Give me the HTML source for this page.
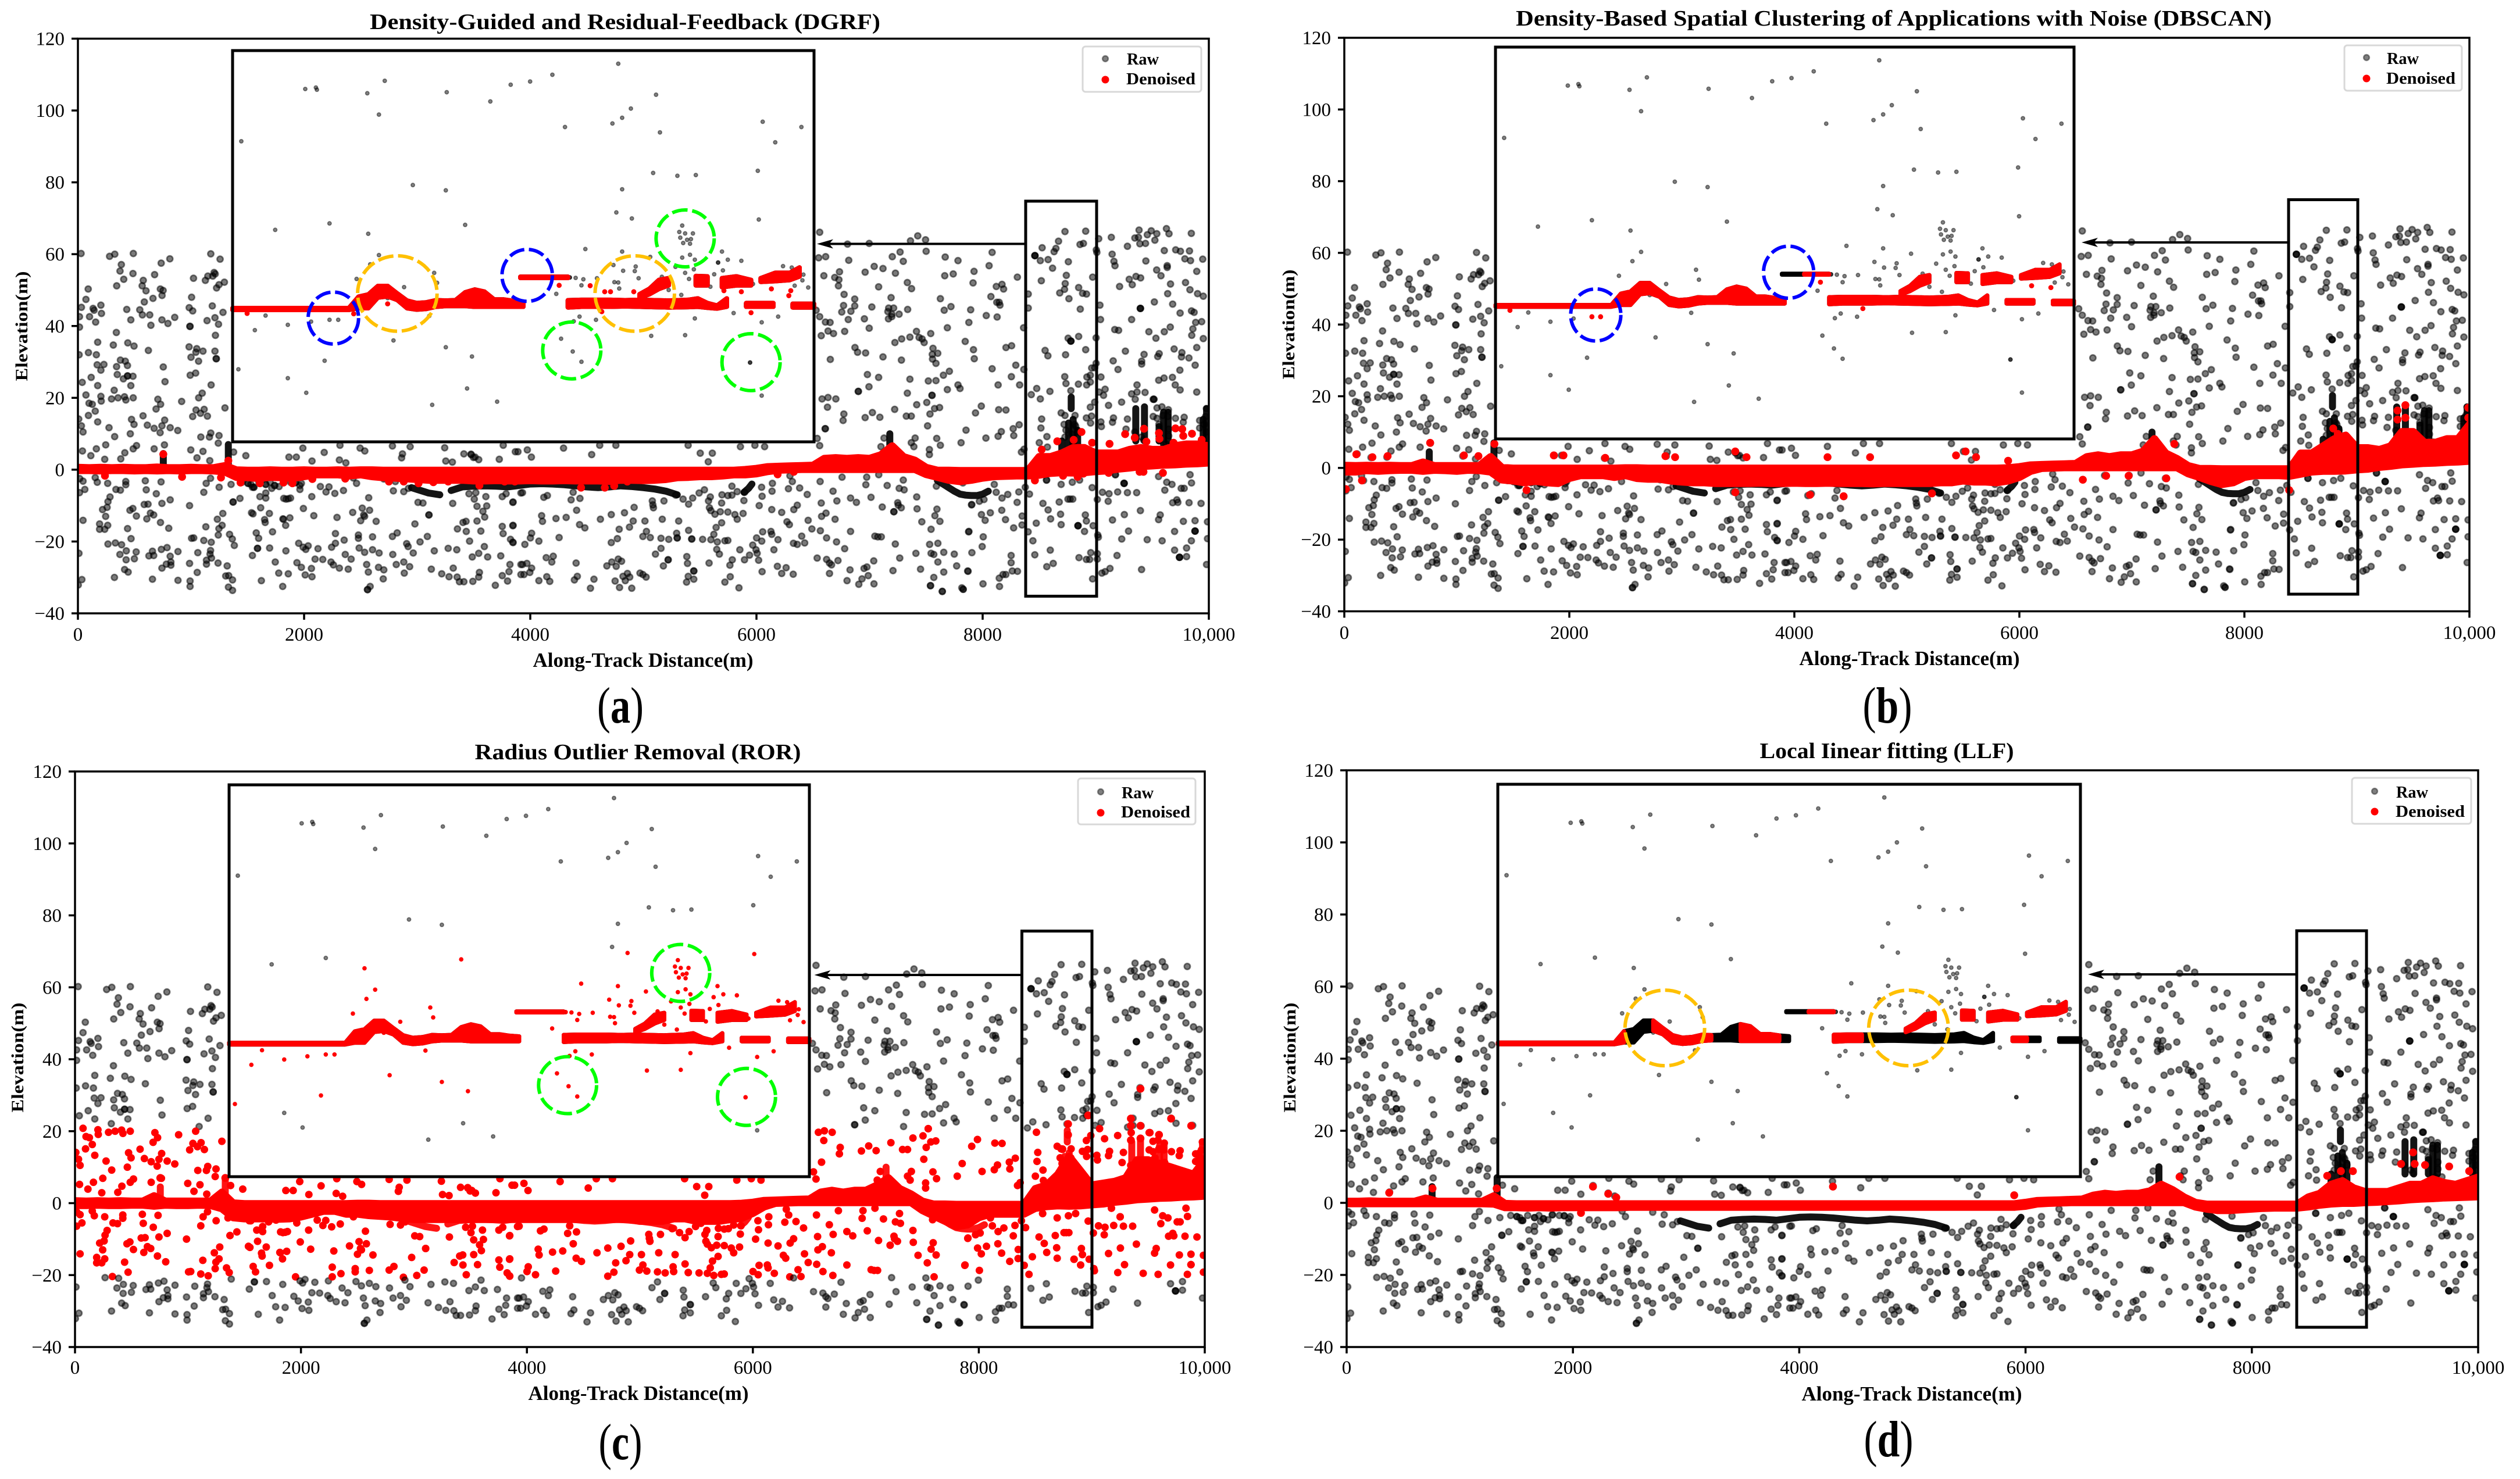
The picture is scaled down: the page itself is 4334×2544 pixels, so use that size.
<!DOCTYPE html>
<html lang="en">
<head>
<meta charset="utf-8">
<title>Denoising comparison</title>
<style>
html,body{margin:0;padding:0;background:#fff}
svg{display:block}
text{font-family:"Liberation Serif",serif;fill:#000}
.title{font-size:38px;font-weight:bold;text-anchor:middle}
.xlabel{font-size:35px;font-weight:bold;text-anchor:middle}
.ylabel{font-size:30px;font-weight:bold;text-anchor:middle}
.tick{font-size:33px}
.legend-text{font-size:28px;font-weight:bold}
.caption{font-size:88px;font-weight:bold;text-anchor:middle}
.caption tspan{font-weight:normal}
</style>
</head>
<body>
<svg id="figure" xmlns="http://www.w3.org/2000/svg" width="4334" height="2544" viewBox="0 0 4334 2544">
<rect x="0" y="0" width="4334" height="2544" fill="#fff"/>
<g id="panel-a"></g>
<g id="panel-b"></g>
<g id="panel-c"></g>
<g id="panel-d"></g>

<text class="title" x="1075" y="50" textLength="878" lengthAdjust="spacingAndGlyphs">Density-Guided and Residual-Feedback (DGRF)</text>
<text class="xlabel" x="1106" y="1147" textLength="379" lengthAdjust="spacingAndGlyphs">Along-Track Distance(m)</text>
<text class="ylabel" transform="translate(47,561) rotate(-90)" textLength="189" lengthAdjust="spacingAndGlyphs">Elevation(m)</text>
<text class="caption" x="1067" y="1243" textLength="80" lengthAdjust="spacingAndGlyphs"><tspan>(</tspan>a<tspan>)</tspan></text>

<text class="title" x="3257" y="44" textLength="1300" lengthAdjust="spacingAndGlyphs">Density-Based Spatial Clustering of Applications with Noise (DBSCAN)</text>
<text class="xlabel" x="3284" y="1144" textLength="379" lengthAdjust="spacingAndGlyphs">Along-Track Distance(m)</text>
<text class="ylabel" transform="translate(2226,558) rotate(-90)" textLength="189" lengthAdjust="spacingAndGlyphs">Elevation(m)</text>
<text class="caption" x="3246" y="1243" textLength="85" lengthAdjust="spacingAndGlyphs"><tspan>(</tspan>b<tspan>)</tspan></text>

<text class="title" x="1097" y="1306" textLength="561" lengthAdjust="spacingAndGlyphs">Radius Outlier Removal (ROR)</text>
<text class="xlabel" x="1098" y="2408" textLength="379" lengthAdjust="spacingAndGlyphs">Along-Track Distance(m)</text>
<text class="ylabel" transform="translate(40,1819) rotate(-90)" textLength="189" lengthAdjust="spacingAndGlyphs">Elevation(m)</text>
<text class="caption" x="1067" y="2510" textLength="75" lengthAdjust="spacingAndGlyphs"><tspan>(</tspan>c<tspan>)</tspan></text>

<text class="title" x="3245" y="1304" textLength="437" lengthAdjust="spacingAndGlyphs">Local Iinear fitting (LLF)</text>
<text class="xlabel" x="3288" y="2409" textLength="379" lengthAdjust="spacingAndGlyphs">Along-Track Distance(m)</text>
<text class="ylabel" transform="translate(2228,1819) rotate(-90)" textLength="189" lengthAdjust="spacingAndGlyphs">Elevation(m)</text>
<text class="caption" x="3248" y="2505" textLength="85" lengthAdjust="spacingAndGlyphs"><tspan>(</tspan>d<tspan>)</tspan></text>

<g>
<rect x="1862" y="80" width="204" height="78" rx="5" fill="#fff" stroke="#d8d8d8" stroke-width="3"/>
<circle cx="1901" cy="101" r="5" fill="#000" fill-opacity=".5" stroke="#000" stroke-opacity=".4" stroke-width="2.4"/>
<circle cx="1901" cy="137" r="6.5" fill="#f00"/>
<text class="legend-text" x="1938" y="111" textLength="55" lengthAdjust="spacingAndGlyphs">Raw</text>
<text class="legend-text" x="1937" y="145" textLength="119" lengthAdjust="spacingAndGlyphs">Denoised</text>
</g>
<g>
<rect x="4032" y="78" width="202" height="78" rx="5" fill="#fff" stroke="#d8d8d8" stroke-width="3"/>
<circle cx="4070" cy="99" r="5" fill="#000" fill-opacity=".5" stroke="#000" stroke-opacity=".4" stroke-width="2.4"/>
<circle cx="4070" cy="135" r="6.5" fill="#f00"/>
<text class="legend-text" x="4105" y="110" textLength="55" lengthAdjust="spacingAndGlyphs">Raw</text>
<text class="legend-text" x="4104" y="144" textLength="119" lengthAdjust="spacingAndGlyphs">Denoised</text>
</g>
<g>
<rect x="1854" y="1339" width="202" height="79" rx="5" fill="#fff" stroke="#d8d8d8" stroke-width="3"/>
<circle cx="1893" cy="1362" r="5" fill="#000" fill-opacity=".5" stroke="#000" stroke-opacity=".4" stroke-width="2.4"/>
<circle cx="1893" cy="1398" r="6.5" fill="#f00"/>
<text class="legend-text" x="1929" y="1373" textLength="55" lengthAdjust="spacingAndGlyphs">Raw</text>
<text class="legend-text" x="1928" y="1406" textLength="119" lengthAdjust="spacingAndGlyphs">Denoised</text>
</g>
<g>
<rect x="4045" y="1338" width="205" height="79" rx="5" fill="#fff" stroke="#d8d8d8" stroke-width="3"/>
<circle cx="4084" cy="1361" r="5" fill="#000" fill-opacity=".5" stroke="#000" stroke-opacity=".4" stroke-width="2.4"/>
<circle cx="4084" cy="1396" r="6.5" fill="#f00"/>
<text class="legend-text" x="4121" y="1372" textLength="55" lengthAdjust="spacingAndGlyphs">Raw</text>
<text class="legend-text" x="4120" y="1405" textLength="119" lengthAdjust="spacingAndGlyphs">Denoised</text>
</g>
</svg>

<script>
const xTicks=[0,2000,4000,6000,8000,10000];
const xTickLabels=["0","2000","4000","6000","8000","10,000"];
const yTicks=[120,100,80,60,40,20,0,-20,-40];
const yTickLabels=["120","100","80","60","40","20","0","\u221220","\u221240"];

const rawPoints=[
[28,60.2],[280,59.4],[326,60],[490,60.2],[1175,60.1],[1257,58.6],[813,58.7],[736,57.5],[384,57.1],[372,55.3],[487,54.6],[405,53],[678,54.3],[578,52.7],[568,51.2],[343,51.2],[91,50.3],[602,49.8],[729,50.3],[753,49.9],[744,48.5],[664,47.7],[587,46.7],[1022,53.3],[1127,52.7],[1149,53.9],[1193,53.9],[1204,54.9],[1214,54.5],[1295,52.2],[1248,51.5],[1226,50.6],[1005,48],[71,47.4],[31,45.2],[134,44.9],[143,44.4],[203,45.8],[208,43.5],[103,42.6],[14,42.6],[157,41.1],[14,39.7],[432,44.6],[547,44.5],[570,43.1],[635,43.1],[468,41.7],[743,41.7],[796,40.7],[856,42.4],[645,40.2],[984,45.1],[1015,44.2],[1188,45.6],[1283,43.8],[1212,42.3],[1142,41.5],[1243,40.5],[991,39.9],[991,39.9],[340,38.2],[1216,37.4],[175,35.5],[313,34.7],[441,35.3],[496,34.4],[623,33.2],[93,32.6],[163,32],[11,32],[983,34.2],[1051,33.7],[1043,32.7],[1106,33],[1212,33],[1000,31.3],[1223,30.9],[1223,30.9],[1067,30.2],[376,30.5],[419,30.2],[438,29],[170,29.2],[230,29.3],[203,27.7],[342,28.7],[755,28.6],[348,26.5],[439,26.1],[439,26.1],[487,26],[402,25.3],[117,25.7],[38,24.3],[175,23.4],[468,23.4],[770,24.5],[993,26.3],[1041,26.9],[1178,23.6],[321,22.1],[1099,21.3],[1068,20],[71,20.8],[203,20.4],[206,19.1],[297,19.7],[355,20],[412,20.3],[424,19.4],[489,20],[707,19.6],[731,18.2],[917,19],[98,18.5],[127,18.2],[691,16.9],[153,16.3],[1044,16.6],[1116,16.8],[1084,15.7],[1145,14.9],[1015,14.8],[1300,17.2],[93,15.1],[576,15],[7,14.1],[474,14],[767,13.8],[175,13.3],[496,12.6],[614,12.4],[31,12.2],[275,11.7],[674,11.5],[743,12.2],[816,11.7],[883,10.9],[45,10.5],[727,10.3],[463,10],[325,9.2],[1175,10.2],[1163,9.1],[1087,9.1],[1248,9.5],[1241,7.4],[765,6.9],[246,6.9],[518,6.7],[489,5.8],[163,5.8],[674,5.8],[40,5.2],[114,3.9],[415,4.7],[379,3],[237,2.9],[998,5.5],[1106,5.1],[1053,3.3],[1166,2.5],[1377,4.9],
[45,-3.2],[16,-2.5],[14,-6.4],[61,-5.5],[153,-2.2],[171,-3.5],[263,-3.8],[423,-3.3],[423,-4.2],[336,-5.5],[376,-5.7],[284,-7.6],[266,-8.9],[258,-10.5],[218,-11.1],[245,-13],[45,-14.1],[192,-15.1],[263,-15.5],[192,-16.6],[237,-16.6],[460,-11.3],[486,-10.8],[517,-12.9],[586,-9.7],[620,-9.6],[604,-5.6],[596,-3.1],[693,-6.7],[735,-3.4],[743,-9.4],[816,-8.4],[987,-10],[641,-12.1],[670,-12.6],[609,-13.7],[730,-14.7],[803,-16.3],[439,-16.4],[470,-19.2],[266,-20.7],[331,-20.4],[386,-20.9],[428,-22.6],[515,-22.9],[371,-23.6],[426,-25.1],[499,-24.8],[413,-27.8],[444,-28.5],[323,-30],[9,-23.3],[35,-30.6],[3,-32.1],[628,-24],[659,-22.7],[670,-23.9],[738,-22.2],[788,-21.7],[885,-22.8],[816,-24.1],[822,-25.7],[782,-26.3],[743,-27.4],[822,-26.6],[987,-26.1],[1055,-28.6],[659,-30.5],[885,-30.8],[992,-31],[992,-32.5],[1005,-19.1],[1024,-19],[1113,-19.7],[1179,-20.2],[1060,-23.1],[1137,-25.2],[1137,-26.3],[1173,-22.5],[1168,-23.5],[1181,-24.6],[1239,-26],[1320,-26.8],[1307,-29.6],[1333,-29.5],[1367,-30.7],[1331,-32.7],[1367,-33.6],[1383,-21.1],[1365,-19.3],[1341,-18],[1241,-18.2],[1247,-16.4],[1275,-15.5],[1233,-13.8],[1281,-12.2],[1131,-15.9],[1113,-6.3],[1134,-3.8],[1173,-2.4],[1249,-4.9],[1354,-4.1],[1372,-9],[1372,-9],[1433,-8],[1485,3.9],
[1866,3.5],[1931,3.5],[2070,2.4],[1989,6],[2178,4.8],[2317,6.8],[2312,2.7],[2369,1.9],[2495,6],[2537,5.2],[2781,6.6],[2938,6.4],[2862,3.3],[2870,4.4],[3243,6.1],[3253,2.4],[3311,2.1],[3413,4.4],[3476,4.3],[3497,3.4],[3544,2.8],[3891,5],
[1535,-12],[1548,-12.3],[1616,-10.6],[1693,-12.2],[1651,-13.9],[1656,-14.7],[1813,-13.7],[1818,-13.8],[1874,-13.4],[1837,-15.5],[1721,-17.3],[1577,-17.6],[1598,-19.1],[1588,-21.9],[1588,-21.9],[1695,-21.8],[1543,-23.9],[1839,-22.6],[1952,-20.5],[1992,-21.6],[2036,-21.2],[2015,-22.2],[2123,-22],[2243,-21.6],[2277,-20.5],[2277,-17.8],[2480,-18.2],[2480,-19.1],[2605,-18.7],[2781,-18.6],[2823,-17.6],[2907,-20.6],[2920,-21.4],[3025,-20.1],[3090,-18.6],[2354,-19.6],[2487,-21.8],[2535,-23],[2605,-22.3],[2663,-23.2],[2364,-23.6],[2416,-24.9],[2097,-24.9],[2165,-25],[2238,-25.7],[2259,-26.5],[2312,-27.4],[2390,-27.7],[2553,-26.4],[2658,-27.2],[2705,-27.9],[2568,-28.5],[2700,-30.4],[2584,-32.5],[2561,-33.4],[2561,-33.4],[1937,-25.9],[1976,-27.2],[2065,-27.5],[2010,-29.3],[2070,-29.8],[1776,-28.8],[1860,-29],[1745,-25.7],[1622,-30.9],[1811,-32.5],[2784,-23.6],[2815,-26.4],[2881,-25.7],[2933,-27],[2886,-28.8],[2965,-23.2],[3151,-22.6],[3125,-27.7],[3217,-29],[3282,-29.8],[3319,-27.4],[3353,-29.9],[3374,-31.2],[3413,-31.2],[3492,-31.1],[3550,-28.6],[3544,-29.9],[3274,-21.9],[3350,-22.3],[3487,-24.3],[3544,-23.3],[3594,-21.4],[3623,-24.3],[3739,-24],[3691,-32.2],[3752,-29.5],[3799,-31],[3812,-28.4],[3820,-26.4],[3917,-26.4],[3917,-29.2],[3846,-15.6],[3752,-15.8],[3760,-17.8],[3825,-19.4],[3846,-20.2],[3356,-16.5],[3405,-14.7],[3432,-14.4],[3529,-14.3],[3434,-17.2],[3563,-17.1],[3463,-19.9],[3597,-13.2],[3581,-11.6],[3529,-10.2],[3615,-10.1],[3505,-8.2],[3518,-6.4],[3458,-6.7],[3314,-9.4],[3607,-7.5],[3846,-9.1],[3752,-7.5],[3786,-6.7],[3917,-6.5],[2980,-15.1],[3104,-12.6],[3104,-12.6],[2637,-14.4],[2500,-14.2],[2527,-12.6],[2535,-13],[2514,-10.7],[2579,-11.3],[2430,-11.9],[2291,-13.3],[2086,-12.8],[1994,-10.8],[2068,-7.5],[2571,-7.8],[3007,-9.1],[3051,-9.3],[2881,-6.1],[2789,-5.9],[2923,-5.2],[2705,-2.6],[2807,-3.3],[2348,-5.8],[2272,-6.6],[2194,-6.2],[2220,-4.8],[2144,-4.7],[2464,-3.8],[2435,-2.3],[1820,-8],[1840,-8.2],[1860,-8.1],[1880,-7.9],[1661,-6.5],[1661,-7.9],[1609,-7.5],[1543,-4.9],[1530,-4.1],[1714,-5.2],[1779,-4.7],[1963,-5.5],[1963,-4.4],
[1504,-3.8],[1504,-3.8],[1556,-4.9],[1556,-4.9],[1661,-4.1],[1661,-4.1],[1740,-4.4],[1740,-4.4],[1818,-3.3],[1818,-3.3],[1923,-3.6],[1923,-3.6],[1976,-3.8],[1450,-3.5],[1600,-3.5],[1700,-3.5],[1880,-3.5],
[3477,4.2],[3512,3.5],[4294,6],[4614,6.8],[4757,6.8],[5396,6.8],[5503,4.6],[5610,4.6],[5574,2.2],[5858,6.4],[5986,6.8],[6072,6.4],[4543,4.2],[3868,5],[3974,5.5],[4010,3.5],[3761,6.8],[3726,2.9],
[3931,-6.4],[3848,-9],[4120,-7.7],[4151,-7.2],[4361,-8.4],[4439,-8],[4379,-6.3],[4410,-11.3],[4100,-12.8],[4108,-14.4],[4227,-13.6],[4317,-13.3],[4436,-15.3],[4483,-16.2],[4620,-13.8],[4716,-12.5],[4833,-12],[4918,-10.5],[4910,-14.3],[5014,-14.3],[5167,-13.8],[5312,-14.3],[4786,-16.6],[4877,-16],[5027,-17.2],[4996,-18.6],[5061,-18.9],[5156,-19.1],[5224,-19.4],[5294,-17.7],[5299,-19],[5299,-19],[5400,-16.9],[5428,-19.3],[5428,-19.3],[5524,-19.4],[5597,-19.5],[5623,-18],[5654,-20.1],[5721,-19.8],[5747,-19.7],[5643,-16.1],[5692,-14.8],[5830,-13.8],[5809,-12.5],[5747,-11.8],[5680,-11.7],[5633,-12.4],[5597,-11.4],[5584,-10.6],[5882,-12.2],[5400,-9.6],[5692,-9.3],[5889,-8.6],[5576,-8.7],[5436,-7.9],[5351,-8.2],[5182,-8.7],[5079,-8.7],[5084,-9.8],[5089,-10.6],[5286,-7.1],[5493,-6.5],[5540,-5.6],[5592,-7.6],[5695,-7],[5747,-7.2],[5783,-7.1],[5830,-6.1],[5783,-4.6],[5895,-6.3],[6050,-7.4],[6024,-10],[6138,-6],[6141,-3.8],[6045,-4.9],[6135,-11.1],[6223,-11.9],[6330,-11.1],[6361,-9.9],[6283,-5.3],[6382,-5.1],[6449,-6.9],[6296,-1.7],[6317,-3.3],[6563,-3.3],[6757,-2.1],[6975,-2.1],[7081,-1.4],[6677,-6],[6832,-7.9],[6884,-9.1],[6711,-8.7],[6573,-9.3],[7013,-7.7],[6967,-4.2],[7156,-4.4],[7262,-5.2],[7306,-5.6],[7298,-2.9],[7112,-10.4],[7249,-9.2],[7254,-9.9],[7280,-10.6],[7215,-11.7],[7215,-11.7],[7417,-7.6],[7420,-10.9],[7596,-11],[7578,-12.8],[7622,-14.4],[7462,-14.5],[7544,-16.6],[7591,-4.6],[6615,-12.1],[6576,-13],[6695,-13.8],[6457,-14.1],[6490,-16.5],[6565,-17],[6832,-17.2],[6620,-19],[6708,-20.1],[6780,-22],[6270,-14.5],[6291,-15.3],[6400,-18.5],[6426,-20.4],[6327,-20.5],[6361,-20.8],[6190,-19.5],[6128,-17.2],[6135,-18],[6055,-17.3],[6001,-19],[6047,-19.9],[5967,-21],[5996,-22.3],[6006,-23.3],[5939,-23.8],[6154,-22.3],[6019,-25.2],[5894,-25.1],[5853,-22.3],[5649,-22.2],[5672,-23.5],[5786,-25.1],[5765,-26.6],[5581,-26],[5390,-26.1],[5384,-24.2],[5156,-21.9],[5107,-23.5],[5219,-25.1],[5219,-25.1],[5177,-26.8],[5446,-28.2],[5446,-28.2],[5768,-29.8],[5397,-29.7],[5446,-30.5],[5382,-31.3],[5721,-31.3],[5845,-32.9],[6050,-28.4],[6185,-26.9],[6262,-27.3],[6223,-28.9],[6325,-29.1],[6537,-24.6],[6620,-25],[6646,-26],[6664,-26.5],[6721,-25.3],[6646,-28.9],[6827,-27.9],[6801,-30.9],[6905,-31.9],[6933,-30.4],[6951,-27.5],[6977,-27.1],[7037,-25.4],[6988,-29.5],[7039,-31.8],[7207,-28.1],[7267,-24.6],[7451,-27.7],[7410,-23.3],[7544,-23.3],[7568,-23.6],[7656,-23],[7749,-23.5],[7604,-25.7],[7770,-26.8],[7656,-28.5],[7568,-30],[7868,-28.2],[7539,-32.3],[7539,-32.3],[7643,-33.9],[7643,-33.9],[7816,-32.9],[7047,-18.5],[7073,-18.7],[7104,-18.7],[7228,-20.7],[7531,-20.8],[7604,-20.5],[7876,-17.3],[7902,-9.8],[4716,-20.3],[4770,-19.2],[4255,-18.9],[4076,-19.9],[4012,-17.7],[4001,-19],[3952,-20.8],[3848,-20.3],[3848,-15.5],[4141,-24.5],[4203,-24.1],[4190,-25.7],[4405,-26],[3931,-26.4],[3970,-26.1],[4012,-27.4],[3944,-29.2],[3996,-28.6],[4721,-25.7],[4778,-24.9],[4807,-25.5],[4677,-26.8],[4760,-26.9],[4146,-29.8],[4172,-31.1],[4076,-30.9],[4416,-29.7],[4390,-30.7],[4563,-30.5],[4750,-31],[4532,-33],[4789,-32.8],[4897,-33],[4859,-28.9],[4820,-29.7],[4879,-29.9],[4840,-30.9],[4970,-28.8],[4996,-29.2],[5024,-29.9],
[6559,66.1],[6550,59],[6612,59.3],[6805,62.8],[6997,63],[7362,63.7],[7426,65.1],[7495,64],[7500,60.8],[6816,58.3],[7201,59.3],[7270,60.6],[7298,58],[7669,59.2],[7782,58.2],[8084,60.5],[8057,56.8],[7041,56.6],[7119,56],[6961,55],[7229,54.7],[6734,55.1],[6596,54],[6692,53.5],[6729,52.9],[6725,51.2],[7665,54],[7740,54.5],[7924,55.2],[8307,53.6],[7915,52],[7080,50.9],[7334,52.1],[7371,50.4],[8121,51],[8171,51.6],[8185,50.3],[8403,48.9],[6775,48.8],[6869,47.5],[7190,47.9],[7626,47.6],[8073,48.2],[6770,45.7],[6869,45.6],[7020,45.3],[7169,45],[7213,45],[7337,44.6],[7162,44],[6754,43.9],[6835,44.1],[6527,44.4],[6559,42.6],[7197,43.3],[7261,43.3],[7197,42.6],[7167,42],[6954,42],[6812,41.8],[6610,41.1],[6651,41],[7660,44.4],[7720,45.4],[7894,44.5],[8032,42.9],[8128,42.5],[7878,41],[8146,46.6],[8125,46.6],[8153,45.8],[6633,38.6],[6681,37.9],[6573,37.3],[6780,38.5],[6997,39.4],[7688,39.5],[8362,39.5],[7415,38.5],[7357,36.9],[7284,36.4],[7224,35.4],[7438,36.8],[7465,36.4],[7483,35.4],[7541,37.9],[7846,35.7],[7561,33.8],[7603,32.4],[7555,32.1],[7557,30.8],[7587,29.6],[7919,33.4],[7926,30.9],[6871,34],[6894,32.7],[6965,32.5],[7119,31.4],[7282,30.5],[6653,30.7],[8206,34],[8256,34.5],[8084,28.1],[8293,29.1],[8364,27.9],[7706,27.4],[7653,26.3],[6981,26.5],[7080,25.7],[7357,25.2],[7520,24.7],[7587,24.8],[6995,23.1],[8254,25.9],[8137,23.6],[8327,23.6],[7782,23.6],[7800,22.6],[7688,22.3],[6901,21.8],[6901,21.8],[7334,21.3],[7552,20.7],[7552,20.7],[6580,19.7],[6633,20.1],[6702,19.7],[6628,17.4],[7417,18.1],[7506,18.7],[7619,17.3],[7575,17],[7222,16.8],[7988,17.7],[8142,16.7],[8206,16.6],[7937,15.8],[7534,15.5],[7025,15.9],[6773,15.5],[6766,13.7],[6961,14.5],[7091,14.6],[7325,14.9],[7369,14.9],[7513,12.2],[6608,11.4],[6608,11.4],[8323,12.5],[8270,11.4],[8165,10.6],[7853,11],[8275,9.5],[8137,9.3],[8029,8.8],[7594,8.7],[7403,8.8],[7128,8.8],[6537,8.7],[6559,6.7],[7626,6.8],[7809,7.5],[7369,7.5],[7392,6.4],[7101,6.4],[7529,5.6],[7529,4.2],[8343,4.9],[8366,5.7],
[8526,61.8],[8671,63.6],[8728,66.3],[8911,66.4],[8861,62.7],[8891,63],[8648,61.6],[8632,60.7],[8462,59.6],[8462,59.6],[8462,59.6],[8510,58.2],[8579,58.5],[8758,57.9],[8618,56.1],[8740,54.1],[8519,52.6],[8730,51.8],[8724,50.2],[8682,49.2],[8849,50.7],[8884,49.1],[8918,48.9],[8763,47.6],[8973,53.6],[9005,61.2],[9010,60.5],[9026,64.3],[9138,64.7],[9280,62.2],[9145,60],[9161,58],[9170,56.8],[9443,58.1],[9346,64.5],[9383,66.7],[9378,64.7],[9390,62.9],[9440,63],[9456,65.4],[9491,66.5],[9540,65.7],[9523,63.9],[9625,67.1],[9648,65.7],[9845,65.8],[9606,61],[9707,61.2],[9749,60.8],[9829,60.9],[9788,58.7],[9838,58.2],[9946,58.6],[9893,55.2],[9632,56.3],[9632,56.8],[9539,55.6],[9577,54],[9296,53],[9356,53.8],[9397,53.4],[9323,51.5],[9211,51],[9661,51.7],[9794,52.1],[9833,50.1],[9636,49],[9900,49],[9951,48.3],[9518,46.7],[9680,46.1],[9395,44.9],[9395,44.9],[9395,44.9],[9746,43.6],[9847,44.2],[9870,43.8],[9317,41.8],[9037,45.8],[9042,41.8],[8403,45],[8863,44.7],[9884,41],[9937,41.2],[9659,39.7],[9606,38.4],[9470,38.4],[9532,36.6],[9168,39],[9202,38.8],[9859,39.2],[9849,37.4],[9951,36.5],[9003,36.7],[8756,36.6],[8849,37.1],[8780,35.8],[8780,35.8],[8780,35.8],[9893,34],[8911,33.4],[8552,33.2],[8577,31.7],[8733,32],[9262,33],[9427,32.1],[9561,32.3],[9548,31.5],[9693,33.6],[9762,32.6],[9758,31.4],[9824,31.1],[9154,30.3],[9197,27.9],[9406,30.2],[9406,29.4],[9744,27.7],[9879,29.1],[9003,29.6],[8964,28.3],[8991,28.4],[9046,25.8],[8952,26.3],[8922,25.8],[8952,24.4],[8920,23.6],[8726,25.9],[8737,24],[8847,23.8],[8780,22],[9557,24.9],[9604,25.5],[9678,25.7],[9703,23.6],[9746,22.2],[9893,21.6],[9365,23.6],[9365,21.6],[9436,21.5],[9317,21.1],[9349,19.6],[9514,19.6],[9514,19.6],[9229,18.8],[9113,17.9],[9083,22.4],[9030,21.6],[9069,20.7],[8478,22.6],[8430,20.9],[8510,19.7],[8595,21.8],[8991,18.8],[8952,17.4],[8522,14.1],[8515,11.6],[8568,9.2],[8501,7.5],[8572,6.3],
[8694,15.8],[8728,15.1],[8817,15.1],[8917,14.4],[8963,14.9],[8954,13],[8720,12.6],[8814,12.6],[8737,11],[8822,12.1],[8728,9.1],[8788,9.9],[8840,10.5],[9280,14.1],[9157,14.4],[9148,13.2],[9045,13.3],[9050,12],[9268,11.3],[9345,10.5],[9508,19.6],[9508,14.8],[9542,17.2],[9585,17.5],[9642,16.7],[9637,14.8],[9594,15.1],[9542,14.3],[9559,12.6],[9645,11.3],[9705,14.3],[9782,14.6],[9774,13.2],[9645,9.4],[9680,7.2],[9620,7.2],[9422,8.3],[9405,9.1],[9919,13.7],[9919,11.6],[9979,17],[9971,14.8],[9962,12.6],[9979,10.5],
[7825,-3.7],[8103,-4.1],[8120,-6.3],[8222,-6.9],[8171,-7.9],[8305,-9.1],[8320,-6.2],[8377,-4.9],[8414,-6.8],[7904,-9.7],[7971,-8.8],[8012,-8.3],[7989,-12.5],[8068,-12],[8169,-11.3],[8202,-13.9],[8022,-14.1],[8274,-16.2],[8349,-12.9],[8348,-15.4],[7878,-17.2],[8005,-18.7],[7996,-21.4],[7905,-23.1],[7871,-28.3],[8252,-23.9],[8252,-25.9],[8003,-31.8],[8147,-30.2],[8180,-29.2],[8205,-29.2],[8262,-28.2],[8308,-28.3],[8149,-32.5],[7828,-33.3],[7828,-33.3],[8533,-9.4],[8579,-11.2],[8677,-9],[8754,-8.2],[8797,-8.2],[8774,-8.2],[8689,-12.4],[8601,-13.7],[8474,-14.9],[8694,-15.3],[8843,-15.6],[8843,-15.6],[8843,-15.6],[8908,-12.6],[8917,-14.3],[8901,-17.2],[8977,-15.6],[8402,-17.3],[8444,-19.8],[8461,-23.7],[8598,-22.4],[8624,-26.1],[8567,-27],[8852,-24.5],[8917,-25],[8946,-25],[8956,-23.1],[9014,-23.4],[9014,-24.9],[8972,-30.4],[9054,-28.8],[9083,-28.4],[9126,-27.5],[9018,-18.2],[9023,-18.8],[9014,-8.3],[8968,-5],[8857,-2.9],[8793,-3.5],[8694,-4.1],[8565,-2.9],[8565,-2.9],[9059,-6.3],[9117,-6.7],[9110,-8.8],[9194,-6.2],[9280,-6.4],[9362,-6.4],[9251,-3.8],[9251,-3.8],[9251,-3.8],[9174,-1.4],[9174,-1.4],[9148,-14],[9253,-12.5],[9395,-11.4],[9290,-17.1],[9230,-19.3],[9455,-19.5],[9587,-19.8],[9188,-23.9],[9405,-27.8],[9570,-12.6],[9556,-13.9],[9697,-17.2],[9775,-14.4],[9878,-14.2],[9878,-17.1],[9878,-17.1],[9878,-17.1],[9846,-19.8],[9803,-21.8],[9697,-22.4],[9741,-24.4],[9741,-24.4],[9741,-24.4],[9803,-24.2],[9980,-26.4],[9988,-14.5],[9988,-19.2],[9556,-1.9],[9628,-3.5],[9674,-4.1],[9611,-5.7],[9756,-5.2],[9782,-5.2],[9847,-3.7],[9834,-1.4],[9717,-8.4],[9680,-9.2],[9726,-9.1],[9825,-9.2],[9931,-9.4]
];

/* dense ground returns in the raw series: along-track position and elevation; null breaks the track */
const denseTrackX=[2950,3000,3100,3200,null,3300,3400,3500,3600,3700,3800,3900,4000,4100,4200,4300,4400,4500,4600,4700,4800,4900,5000,5100,5200,5300,null,5890,5930,5960,null,7600,7650,7700,7750,7800,7850,7900,7950,8000,8050];
const denseTrackY=[-5,-5.5,-6.5,-7,null,-5.8,-4.8,-4.6,-4.5,-4.6,-4.8,-4.4,-4,-3.9,-4,-4.2,-4.5,-4.8,-5,-4.8,-4.5,-4.7,-5,-5.4,-6,-7,null,-6.3,-5.2,-4,null,-3,-4,-5,-6,-6.8,-7.1,-7.2,-7.2,-6.8,-6];
const denseColX=[755,1330,7179,8783,8700,8760,8800,8840,9354,9431,9560,9600,9640,9950,9980];
const denseColLow=[1,1,2,17,5,6,6,6,8,8,8,7,8,8,8];
const denseColHigh=[4.5,7,10,20.2,8,13,14,11,17,17.5,12,16,16,14,17];

const bandX=[0,100,200,300,400,500,600,700,800,900,1000,1100,1200,1300,1400,1500,1600,1700,1800,1900,2000,2100,2200,2300,2400,2500,2600,2700,2800,2900,3000,3100,3200,3300,3400,3500,3600,3700,3800,3900,4000,4100,4200,4300,4400,4500,4600,4700,4800,4900,5000,5100,5200,5300,5400,5500,5600,5700,5800,5900,6000,6100,6200,6300,6400,6500,6600,6700,6800,6900,7000,7100,7200,7300,7400,7500,7600,7700,7800,7900,8000,8100,8200,8300,8400,8500,8600,8700,8800,8900,9000,9100,9200,9300,9400,9500,9600,9700,9800,9900,10000];

const dgrfHigh=[.5,.4,.5,.4,.5,.4,.4,.6,.4,.4,.5,.4,.4,1,-.2,-.3,-.3,-.2,-.3,-.3,-.2,-.3,-.3,-.2,-.3,-.2,-.2,-.3,-.3,-.3,-.3,-.3,-.3,-.3,-.3,-.3,-.3,-.3,-.3,-.3,-.3,-.3,-.3,-.3,-.3,-.3,-.3,-.3,-.3,-.3,-.3,-.3,-.3,-.3,-.3,-.3,-.3,-.3,-.3,-.1,.2,.7,.8,.9,1,1.1,3,3.2,3,3.2,3,4,6.5,3.5,2.5,.5,-.3,-.3,-.4,-.4,-.4,-.4,-.4,-.4,-.4,3.5,3.5,4.5,6,6,4.5,4.5,4.5,5.5,6,5.5,5.5,6.5,7,7,6.5];
const dgrfLow=[-.1,-.1,-.2,-.1,-.1,-.2,-.1,-.2,-.1,-.2,-.1,-.1,-.2,-.5,-2,-2.1,-2.3,-2,-2.1,-2.3,-1.8,-1.3,-1.3,-1.3,-1.6,-1.3,-1.8,-2.1,-2.2,-2.4,-2.6,-2.8,-2.8,-2.8,-2.8,-3,-3,-2.9,-3,-3,-2.9,-3,-3,-2.9,-3,-3,-3,-3.1,-2.8,-2.8,-2.9,-2.8,-2.6,-2.1,-2,-1.8,-1.8,-1.6,-1.3,-1.3,-1,-.4,0,.1,.2,.2,.2,.2,.2,.2,.2,.2,.2,.2,.2,-1.2,-2,-2.8,-3.2,-2.8,-2.2,-1.8,-1.7,-1.6,-1.6,-1.4,-.9,-.7,-.8,-.7,-.4,-.2,.3,.6,1,1.2,1.4,1.5,1.7,1.8,2];

const dbscanHigh=[.6,.5,.6,.5,.6,.5,.5,1.5,.5,.5,.5,.5,.5,3,0,-.2,-.2,-.2,-.2,-.2,-.2,-.2,-.2,-.2,-.2,-.1,-.1,-.2,-.2,-.2,-.2,-.2,-.2,-.2,-.2,-.2,-.2,-.2,-.2,-.2,-.2,-.2,-.2,-.2,-.2,-.2,-.2,-.2,-.2,-.2,-.2,-.2,-.2,-.2,-.2,-.2,-.2,-.2,-.2,-.1,.2,.7,.8,.9,1,1.1,3,3.5,3,3.5,3.5,4.5,8,4,2.5,.5,-.3,-.3,-.4,-.4,-.4,-.4,-.4,-.4,-.4,4,4,6,8,9,5.5,5.5,5,6,10,10,7,7,8,8,12];
const dbscanLow=[-1,-1,-.6,-.8,-.6,-.5,-.5,-.8,-.5,-.6,-.8,-.5,-.6,-1,-3.2,-3.5,-4,-3.6,-4,-4.2,-2.8,-2,-2,-2,-2.5,-2,-2.8,-3,-3,-3.5,-3.8,-4,-4,-4.2,-4.2,-4.2,-4.2,-4.1,-4.2,-4.2,-4.1,-4.2,-4.2,-4.1,-4.2,-4.2,-4.2,-4.3,-4.2,-4.2,-4.2,-4.2,-4.2,-4,-4,-3.5,-3.8,-3.8,-4,-3.5,-2.5,-.8,0,.1,.2,.2,.2,.2,.2,.2,.2,.2,.2,.2,.2,-1.5,-2.5,-3.6,-4.5,-4,-2.5,-2,-2,-2,-2.2,-1.6,-1,-.8,-.8,-.7,-.4,-.2,.3,.6,1,1.2,1.4,1.5,1.7,1.8,2];

const rorHigh=[.6,.5,.6,.5,.6,.5,.5,2,.5,.5,.5,.5,.5,3,0,-.2,-.2,-.2,-.2,-.2,-.2,-.2,-.2,-.2,-.2,-.1,-.1,-.2,-.2,-.2,-.2,-.2,-.2,-.2,-.2,-.2,-.2,-.2,-.2,-.2,-.2,-.2,-.2,-.2,-.2,-.2,-.2,-.2,-.2,-.2,-.2,-.2,-.2,-.2,-.2,-.2,-.2,-.2,-.2,-.1,.2,.7,.8,.9,1,1.1,3,3.5,3,3.5,3.5,5,7,4,2.5,.5,-.3,-.3,-.4,-.4,-.4,-.4,-.4,-.4,-.4,4,5,8,13,9,5,5.5,6,7,12,12,11,10,9,8,12];
const rorLow=[-.6,-.6,-.5,-.6,-.6,-.5,-.5,-.8,-.5,-.6,-.6,-.5,-.6,-1.5,-4,-4.3,-4.3,-4.3,-4.4,-4.3,-3.8,-3,-2.2,-2.2,-3,-3,-3.4,-3.6,-3.8,-4.2,-4.5,-4.5,-4.5,-4.5,-4.5,-4.5,-4.5,-4.5,-4.5,-4.5,-4.5,-4.5,-4.5,-4.5,-4.5,-4.5,-4.5,-4.5,-4.5,-4.5,-5,-5,-5,-4.3,-4.3,-5,-5,-5,-4.5,-4.2,-2.8,-1,0,.1,.2,.2,.2,.2,.2,.2,.2,.2,.2,.2,.2,-2,-3.5,-5,-6.5,-6,-4,-3,-3,-3,-3,-1.4,-.9,-.7,-.8,-.7,-.4,-.2,.3,.6,1,1.2,1.4,1.5,1.7,1.8,2];

const llfHigh=[.3,.3,.4,.3,.3,.3,.3,1.2,.3,.3,.3,.3,.3,1.8,-.3,-.4,-.4,-.4,-.4,-.4,-.4,-.4,-.4,-.4,-.4,-.4,-.4,-.4,-.4,-.4,-.4,-.4,-.4,-.4,-.4,-.4,-.4,-.4,-.4,-.4,-.4,-.4,-.4,-.4,-.4,-.4,-.4,-.4,-.4,-.4,-.4,-.4,-.4,-.4,-.4,-.4,-.4,-.4,-.4,-.4,0,.5,.6,.7,.8,.9,2,2.5,2.2,2.5,2.5,3.2,5,3.5,1.5,0,-.5,-.5,-.5,-.5,-.5,-.5,-.5,-.5,-.5,1.5,2.5,5,6,4,3,3,3,4,5,5,6.5,5.5,5,6,7];
const llfLow=[-.1,-.1,-.1,-.1,-.1,-.1,-.1,-.1,-.1,-.1,-.1,-.1,-.1,-.2,-1.2,-1.2,-1.3,-1.2,-1.3,-1.2,-1.2,-1.2,-1.2,-1.2,-1.2,-1.1,-1.1,-1.1,-1.1,-1.1,-1.1,-1.1,-1.1,-1.1,-1.1,-1.1,-1.1,-1.1,-1.1,-1.1,-1.1,-1.1,-1.1,-1.1,-1.1,-1.1,-1.1,-1.1,-1.1,-1.1,-1.1,-1.1,-1.1,-1.1,-1.1,-1.1,-1.1,-1.1,-1.1,-1.1,-.8,-.2,0,.1,.2,.2,.2,.2,.2,.2,.2,.2,.2,.2,.2,-1,-1.6,-2,-2,-1.8,-1.6,-1.4,-1.3,-1.3,-1.3,-1,-.5,-.2,0,0,.2,.3,.5,.7,1,1.2,1.3,1.5,1.6,1.7,1.8];

const dgrfOutliers=[[755,4.3],[1330,2.5],[2073,-2.6],[2364,-2.5],[921,-2],[1265,-2.2],[239,-1.7],[4449,-5],[4659,-5],[4742,-4.5],[4858,-3.3],[6187,-1.3],[6330,-.6],[8522,5.6],[8660,7.9],[8874,10.5],[8805,8.3],[8968,7.5],[9122,7.2],[9260,9.9],[9345,8.9],[9427,11.4],[9448,7.8],[9559,10.2],[9563,8.6],[9705,11.5],[9765,11.3],[9774,9.4],[9851,10],[9937,8.3],[9688,7.5],[9388,-.6],[9422,-.6],[9594,-.9],[9114,-.9],[8891,-1.1],[8711,-1.7],[8840,-2],[8462,-3],[1438,-3.6],[1609,-3.8],[1818,-3.6],[1897,-3.8],[2750,-3.3],[2881,-3.3],[3012,-3.8],[3143,-3.5],[3274,-3.3],[3550,-4.4],[3773,-3.3],[3864,-3.3]];
const dbscanOutliers=[[763,7],[1334,6.7],[107,3.8],[250,3],[385,3.3],[1063,3.5],[1192,3.3],[1862,3.5],[1948,3.5],[2319,2.8],[3475,4.6],[3575,3],[4295,3],[4673,3],[5437,3.5],[5522,4.6],[5615,3],[5900,2],[2854,3.3],[2940,3],[6564,-3.3],[6771,-2.2],[6971,-2.2],[7306,-2.9],[7377,6.7],[8398,-6.2],[4139,-7.5],[4438,-7.9],[5223,-7.1],[3475,-6.8],[14,-5.9],[157,-3.5],[1620,-6.2],[9361,16],[9361,13.5],[9431,17.5],[9431,14],[9990,16.8],[9990,14],[8790,11],[8830,9.5]];
const rorOutliers=[[755,7],[1330,7],[8790,22],[8790,19],[8740,15],[9346,21.5],[9346,17.5],[9431,21.5],[9431,18],[9595,19],[9595,15],[9431,31.8],[8968,24.4],[9346,23.5],[9702,23.5],[9880,21.5]];
const llfOutliers=[[376,2.8],[759,4],[1326,4],[2071,-2.8],[2177,4.5],[2312,2.5],[2383,1.5],[4298,4.5],[5900,2.1],[7361,7.2],[9425,14],[9439,10.8],[8666,7.5],[8787,8.8],[8893,8.8],[9319,10.8],[9531,10.5],[9744,10.1],[9921,8.8]];

/* radius-outlier panel keeps every raw return inside these elevation limits */
const rorKeepLimits=[-20.6,20.8];
const rorInsetKeepLow=-17;
const rorInsetKeepHighLeft=24;
const rorInsetKeepHighRight=29;
const rorInsetSplitX=8600;

const insetRawPoints=[
[8798,71.3],[8730,68.2],[8707,66.3],[8687,65.4],[8557,66.5],[8475,64.2],[8486,64.6],[8487,64],[8539,63],[8621,63.3],[8666,60.7],[8837,62.6],[8811,58.7],[8802,56.1],[8792,54.5],[8743,53.5],[8841,52],[8551,57],[8409,49.5],[8947,55],[8987,53.5],[8960,49.2],[8942,41.2],[8834,40.6],[8859,39.8],[8878,40],[8586,37.2],[8620,35.7],[8802,36],[8796,29.5],[8812,27.8],[8943,27.5],[8500,26.4],[8640,26],
[8444,24.6],[8540,23.5],[8551,17.5],[8542,14.9],[8608,12.5],[8528,10.8],[8611,9.7],[8577,8.5],[8560,5.4],[8764,19.2],[8802,18.5],[8864,25.8],[8861,24],[8867,23.6],[8875,23.6],[8862,22.4],[8873,22],[8869,21.8],[8865,20.9],[8872,20.7],[8864,16.8],[8872,17.6],[8877,16.2],[8905,18.5],[8911,16.2],[8925,15.9],[8901,15.4],[8901,15.4],[8906,13.2],[8876,13.5],[8857,14.2],[8867,12.5],[8871,10.8],[8897,12.1],[8893,8.6],[8968,14.4],[8977,14],[8981,12.4],[8989,12],[8988,10.4],[8980,8.9],[8994,8.4],[8937,9.4],[8831,17],[8816,14.3],[8815,13],[8803,13.1],[8793,14.7],[8843,11.4],[8819,11],[8776,11],[8762,10.7],[8748,11.2],[8748,11.2],[8754,11.1],[8760,9],[8794,9.9],[8798,9.8],[8799,8.1],[8836,7.5],[8850,7.7],[8734,6.6],[8863,6.3],
[8434,.5],[8457,-2.1],[8423,-3.6],[8481,-1.2],[8500,-.7],[8509,-.7],[8603,.4],[8758,.2],[8775,-.7],[8752,-1.1],[8917,1.2],[8877,-.3],[8963,.2],[8946,-1.4],[8867,-5],[8832,-5.2],[8566,-6.5],[8620,-8.4],[8647,-11],[8495,-12.2],[8406,-14.6],[8457,-17.1],[8476,-21.2],[8642,-20],[8606,-24.6],[8673,-23.7],[8946,-22],[8739,-6],[8751,-9.6],[8760,-12.5],[8934,-12.7],[8934,-12.7]
];

const insetGroundX=[8400,8420,8440,8460,8480,8500,8520,8530,8540,8550,8560,8570,8580,8590,8600,8610,8620,8630,8640,8650,8660,8670,8680,8690,8700,null,8746,8760,8775,8790,8805,8820,8835,8850,8870,8880,8890,8900,8910,null,8930,8945,8958,null,8978,8990,9000];
const insetGroundLow=[2.1,2.1,2.1,2.1,2.1,2.1,2.1,2.6,2.6,5.6,5.9,4.9,2.6,2.2,2.4,3,3.2,3.2,3.2,3,3,3,3,3,3,null,2.8,3,3,3,3.1,3,2.9,2.8,2.9,3,2.7,2.5,3,null,3,3,3,null,2.8,2.8,2.8];
const insetGroundHigh=[2.6,2.6,2.6,2.6,2.6,2.6,2.6,5.8,6.4,8.8,8.8,6.7,4.7,4,4.2,4.8,4.7,4.8,7,7.8,7.2,5,5,4.6,4.4,null,4.8,4.9,4.9,4.9,4.8,4.9,4.8,4.7,4.9,5.3,4,3.3,5.3,null,4,4,4,null,3.8,3.8,3.8];
const insetUpperX=[8697,8720,8746,null,8820,8830,8840,8850,null,8878,8890,null,8905,8920,8935,null,8945,8960,8975,8985];
const insetUpperLow=[11.1,11.1,11.1,null,5.5,6.5,8,9,null,9,9,null,8.5,9,9,null,10,10.2,10.5,11.5];
const insetUpperHigh=[11.4,11.4,11.4,null,6.5,8,10.5,11,null,11.6,11.5,null,11,11.5,10.5,null,11,12.5,12.5,14];
const insetRedDots=[[8737,9],[8769,8.9],[8784,7.2],[8790,7.2],[8907,7.5],[8925,7.2],[8956,8],[8976,7.5],[8974,6.1],[8935,1.3],[8781,1.6],[8415,1.1],[8525,1],[8560,3.8],[8828,7.5],[8814,7.2]];
const insetRedDotsB=[[8500,-.7],[8509,-.7],[8415,1.1],[8828,7.5],[8956,8],[8976,7.5],[8781,1.6],[8737,9]];

/* dashed annotation ellipses: centre and half-extents, in inset axis units */
const ellipseBlue=[[8504,-.2,26,7.3],[8704,11.8,26,7.3]];
const ellipseOrange=[[8570,6.7,41,10.6],[8815,6.7,41,10.6]];
const ellipseGreen=[[8867,22.2,30,8],[8750,-9.3,30,8],[8935,-12.6,30,8]];
const ellipseOrangeD=[[8572,6.7,41,10.6],[8823,6.7,41,10.6]];

const panels=[
 {id:'a',frame:[134,66.5,2079,1055],box:[1764,346,1886,1025.5],inset:[400,87,1400,760],arrowY:419.5,arrowTip:1405,tickX:1091,
  high:dgrfHigh,low:dgrfLow,outliers:dgrfOutliers,insetDots:insetRedDots,insetRed:[[8400,9000]],upperRed:[[8400,9000]],
  ellipses:[[ellipseBlue,'#0000ff'],[ellipseOrange,'#ffc000'],[ellipseGreen,'#00ff00']],ror:false,bandWidth:14,insetWidth:8},
 {id:'b',frame:[2312,65,4247,1051.5],box:[3936,343.5,4055,1022],inset:[2572,81,3567,755],arrowY:417,arrowTip:3580,tickX:1088,
  high:dbscanHigh,low:dbscanLow,outliers:dbscanOutliers,insetDots:insetRedDotsB,insetRed:[[8400,9000]],upperRed:[[8700,9000]],
  ellipses:[[ellipseBlue,'#0000ff']],ror:false,bandWidth:14,insetWidth:7},
 {id:'c',frame:[129,1327,2072,2317],box:[1757.5,1601.5,1878,2283],inset:[394,1350,1392,2024],arrowY:1677,arrowTip:1400.5,tickX:2352,
  high:rorHigh,low:rorLow,outliers:rorOutliers,insetDots:[],insetRed:[[8400,9000]],upperRed:[[8400,9000]],
  ellipses:[[ellipseGreen,'#00ff00']],ror:true,bandWidth:13,insetWidth:7},
 {id:'d',frame:[2316,1325,4262,2317],box:[3950,1601,4070,2283],inset:[2576,1349,3578,2024],arrowY:1676,arrowTip:3591,tickX:2352,
  high:llfHigh,low:llfLow,outliers:llfOutliers,insetDots:[],insetRed:[[8400,8533],[8560,8620],[8650,8690],[8746,8786],[8926,8950]],upperRed:[[8720,9000]],
  ellipses:[[ellipseOrangeD,'#ffc000']],ror:false,bandWidth:14,insetWidth:7}
];

const SVGNS='http://www.w3.org/2000/svg';
function el(tag,attrs,parent){
  const e=document.createElementNS(SVGNS,tag);
  for(const k in attrs)e.setAttribute(k,attrs[k]);
  parent.appendChild(e);
  return e;
}
function bandPath(xs,lows,highs,sx,sy,keep){
  let d='',run=[];
  const flush=()=>{
    if(!run.length)return;
    const up=run.map(i=>sx(xs[i]).toFixed(1)+' '+sy(highs[i]).toFixed(1));
    const dn=run.slice().reverse().map(i=>sx(xs[i]).toFixed(1)+' '+sy(lows[i]).toFixed(1));
    d+='M'+up.concat(dn).join('L')+'Z';
    run=[];
  };
  xs.forEach((x,i)=>{
    if(x===null||(keep&&!keep(x))){flush();return;}
    run.push(i);
  });
  flush();
  return d;
}
const defs=el('defs',{},document.getElementById('figure'));

panels.forEach(p=>{
  const root=document.getElementById('panel-'+p.id);
  const [L,T,R,B]=p.frame;
  const sx=v=>L+(R-L)*v/10000;
  const sy=v=>T+(B-T)*(120-v)/160;
  const [iL,iT,iR,iB]=p.inset;
  const ix=v=>iL+(iR-iL)*(v-8400)/600;
  const iy=v=>iT+(iB-iT)*(75-v)/110;

  const cp=el('clipPath',{id:'clip-'+p.id},defs);
  el('rect',{x:L,y:T,width:R-L,height:B-T},cp);

  const plot=el('g',{'clip-path':'url(#clip-'+p.id+')'},root);
  
  

  const denseColor=p.ror?'#f00':'#000';
  rawPoints.forEach(pt=>{
    const kept=p.ror&&pt[1]>=rorKeepLimits[0]&&pt[1]<=rorKeepLimits[1];
    const c=kept?el('circle',{cx:sx(pt[0]).toFixed(1),cy:sy(pt[1]).toFixed(1),r:6.5,fill:'#f00'},plot)
                :el('circle',{cx:sx(pt[0]).toFixed(1),cy:sy(pt[1]).toFixed(1),r:5.2,fill:'#000','fill-opacity':.52,stroke:'#000','stroke-opacity':.5,'stroke-width':2.6},plot);
    
    
  });

  let d='',pen=false;
  denseTrackX.forEach((x,i)=>{
    if(x===null){pen=false;return;}
    d+=(pen?'L':'M')+sx(x).toFixed(1)+' '+sy(denseTrackY[i]).toFixed(1);
    pen=true;
  });
  const track=el('path',{d:d,fill:'none',stroke:denseColor,'stroke-width':12,'stroke-linecap':'round','stroke-linejoin':'round','stroke-opacity':.92},plot);
  
  

  denseColX.forEach((x,i)=>{
    const col=el('line',{x1:sx(x),x2:sx(x),y1:sy(denseColLow[i]),y2:sy(denseColHigh[i]),stroke:denseColor,'stroke-width':12,'stroke-linecap':'round','stroke-opacity':.92},plot);
    
    
  });

  const band=el('path',{d:bandPath(bandX,p.low,p.high,sx,sy),fill:'#f00',stroke:'#f00','stroke-width':p.bandWidth,'stroke-linejoin':'round'},plot);
  
  

  p.outliers.forEach(pt=>{
    const c=el('circle',{cx:sx(pt[0]),cy:sy(pt[1]),r:6.8,fill:'#f00'},plot);
    
    
  });

  const box=el('rect',{x:p.box[0],y:p.box[1],width:p.box[2]-p.box[0],height:p.box[3]-p.box[1],fill:'none',stroke:'#000','stroke-width':5},root);
  
  

  const shaft=el('line',{x1:p.box[0],x2:p.arrowTip+20,y1:p.arrowY,y2:p.arrowY,stroke:'#000','stroke-width':4},root);
  
  
  const t=p.arrowTip,y=p.arrowY;
  const head=el('polygon',{points:t+','+y+' '+(t+28)+','+(y-8)+' '+(t+21)+','+y+' '+(t+28)+','+(y+8),fill:'#000'},root);
  
  

  const inset=el('g',{},root);
  
  
  const bg=el('rect',{x:iL,y:iT,width:iR-iL,height:iB-iT,fill:'#fff'},inset);
  
  

  insetRawPoints.forEach(pt=>{
    const top=pt[0]<rorInsetSplitX?rorInsetKeepHighLeft:rorInsetKeepHighRight;
    const kept=p.ror&&pt[1]>=rorInsetKeepLow&&pt[1]<=top;
    const c=kept?el('circle',{cx:ix(pt[0]).toFixed(1),cy:iy(pt[1]).toFixed(1),r:3.8,fill:'#f00'},inset)
                :el('circle',{cx:ix(pt[0]).toFixed(1),cy:iy(pt[1]).toFixed(1),r:3.2,fill:'#000','fill-opacity':.5,stroke:'#000','stroke-opacity':.45,'stroke-width':1.6},inset);
    
    
  });

  const g1=el('path',{d:bandPath(insetGroundX,insetGroundLow,insetGroundHigh,ix,iy),fill:'#000',stroke:'#000','stroke-width':p.insetWidth,'stroke-linejoin':'round'},inset);
  
  
  const g2=el('path',{d:bandPath(insetUpperX,insetUpperLow,insetUpperHigh,ix,iy),fill:'#000',stroke:'#000','stroke-width':p.insetWidth,'stroke-linejoin':'round'},inset);
  
  

  p.insetRed.forEach(r=>{
    const s=el('path',{d:bandPath(insetGroundX,insetGroundLow,insetGroundHigh,ix,iy,x=>x>=r[0]&&x<=r[1]),fill:'#f00',stroke:'#f00','stroke-width':p.insetWidth,'stroke-linejoin':'round'},inset);
    
    
  });
  p.upperRed.forEach(r=>{
    const s=el('path',{d:bandPath(insetUpperX,insetUpperLow,insetUpperHigh,ix,iy,x=>x>=r[0]&&x<=r[1]),fill:'#f00',stroke:'#f00','stroke-width':p.insetWidth,'stroke-linejoin':'round'},inset);
    
    
  });
  p.insetDots.forEach(pt=>{
    const c=el('circle',{cx:ix(pt[0]),cy:iy(pt[1]),r:4.4,fill:'#f00'},inset);
    
    
  });

  p.ellipses.forEach(group=>{
    group[0].forEach(e=>{
      const rx=e[2]*(iR-iL)/600, ry=e[3]*(iB-iT)/110;
      const ring=el('ellipse',{cx:ix(e[0]),cy:iy(e[1]),rx:rx,ry:ry,fill:'none',stroke:group[1],'stroke-width':6,'stroke-dasharray':'27 8'},inset);
      
      
    });
  });

  const border=el('rect',{x:iL,y:iT,width:iR-iL,height:iB-iT,fill:'none',stroke:'#000','stroke-width':5},inset);
  
  

  const frame=el('rect',{x:L,y:T,width:R-L,height:B-T,fill:'none',stroke:'#000','stroke-width':3.5},root);
  
  

  xTicks.forEach((v,i)=>{
    const m=el('line',{x1:sx(v),x2:sx(v),y1:B,y2:B+11,stroke:'#000','stroke-width':3.5},root);
    
    
    const lab=el('text',{class:'tick',x:sx(v),y:p.tickX+11,'text-anchor':'middle'},root);
    lab.textContent=xTickLabels[i];
    
    
  });
  yTicks.forEach((v,i)=>{
    const m=el('line',{x1:L-11,x2:L,y1:sy(v),y2:sy(v),stroke:'#000','stroke-width':3.5},root);
    
    
    const lab=el('text',{class:'tick',x:L-23,y:sy(v)+11,'text-anchor':'end'},root);
    lab.textContent=yTickLabels[i];
    
    
  });
});
</script>
</body>
</html>
